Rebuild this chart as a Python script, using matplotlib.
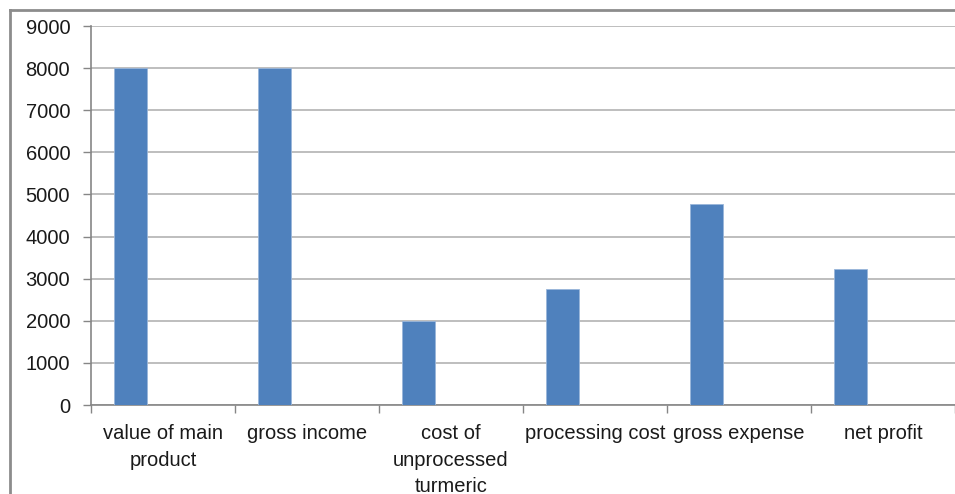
import matplotlib.pyplot as plt
from matplotlib.lines import Line2D

# Chart data
categories = ['value of main\nproduct', 'gross income', 'cost of\nunprocessed\nturmeric',
              'processing cost', 'gross expense', 'net profit']
values = [8000, 8000, 2000, 2760, 4770, 3225]
y_ticks = [0, 1000, 2000, 3000, 4000, 5000, 6000, 7000, 8000, 9000]

plt.rcParams['font.family'] = ['Liberation Sans', 'DejaVu Sans']

fig = plt.figure(figsize=(9.55, 4.94), dpi=100)
ax = fig.add_axes((91 / 955, 89 / 494, 1 - 91 / 955, (405 - 26) / 494))

# bars sit in the left part of each category slot (empty second series in the original)
x = [i + 0.162 for i in range(len(values))]
ax.bar(x, values, width=0.225, align='edge', color='#4F81BD', edgecolor='#9ab6da', linewidth=0.6, zorder=3)

ax.set_xlim(0, len(categories))
ax.set_ylim(0, 9000)
ax.set_yticks(y_ticks)
ax.set_yticklabels([str(v) for v in y_ticks])

# slot boundaries as tick marks, labels centred in the slots
ax.set_xticks(range(len(categories) + 1))
ax.set_xticklabels([])
ax.set_xticks([i + 0.5 for i in range(len(categories))], minor=True)
ax.set_xticklabels(categories, minor=True, fontsize=14.5, linespacing=1.5, va='top', color='#1a1a1a')
ax.tick_params(axis='x', which='minor', length=0, pad=14)
ax.tick_params(axis='x', which='major', length=6, width=1, color='#868686', direction='out')
ax.tick_params(axis='y', length=6, width=1, color='#868686', labelsize=14.5, labelcolor='#1a1a1a', pad=9)

ax.grid(axis='y', color='#b3b3b3', linewidth=1.2, zorder=0)
ax.set_axisbelow(True)
for s in ['top', 'right']:
    ax.spines[s].set_visible(False)
ax.spines['left'].set_color('#868686')
ax.spines['bottom'].set_color('#868686')
ax.spines['left'].set_linewidth(1.2)
ax.spines['bottom'].set_linewidth(1.2)

# outer chart frame, cut off at right and bottom
fig.add_artist(Line2D([10 / 955, 10 / 955], [0, 1 - 10 / 494], color='#8c8c8c', linewidth=2))
fig.add_artist(Line2D([10 / 955, 1], [1 - 10 / 494, 1 - 10 / 494], color='#8c8c8c', linewidth=2))

plt.savefig('out.png', dpi=100)
